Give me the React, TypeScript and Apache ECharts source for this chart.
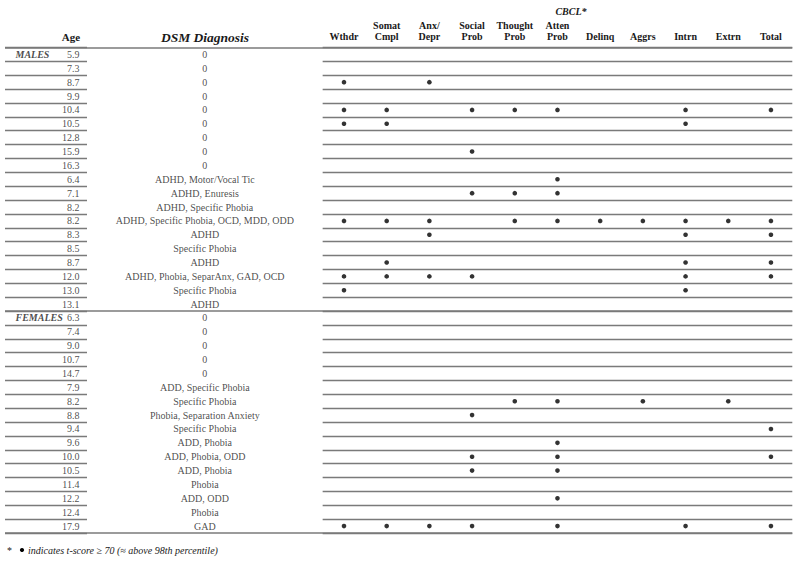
import React, { useEffect, useRef } from "react";
import * as echarts from "echarts";

const cbclColumns = ["Wthdr", "Somat\nCmpl", "Anx/\nDepr", "Social\nProb", "Thought\nProb", "Atten\nProb", "Delinq", "Aggrs", "Intrn", "Extrn", "Total"];
const groupLabels = ["MALES", "FEMALES"];

const maleAges = ["5.9", "7.3", "8.7", "9.9", "10.4", "10.5", "12.8", "15.9", "16.3", "6.4", "7.1", "8.2", "8.2", "8.3", "8.5", "8.7", "12.0", "13.0", "13.1"];
const maleDiagnoses = ["0", "0", "0", "0", "0", "0", "0", "0", "0", "ADHD, Motor/Vocal Tic", "ADHD, Enuresis", "ADHD, Specific Phobia", "ADHD, Specific Phobia, OCD, MDD, ODD", "ADHD", "Specific Phobia", "ADHD", "ADHD, Phobia, SeparAnx, GAD, OCD", "Specific Phobia", "ADHD"];
// 1 = t-score >= 70 in column order of cbclColumns
const maleFlags = [
  "00000000000",
  "00000000000",
  "10100000000",
  "00000000000",
  "11011100101",
  "11000000100",
  "00000000000",
  "00010000000",
  "00000000000",
  "00000100000",
  "00011100000",
  "00000000000",
  "11101111111",
  "00100000101",
  "00000000000",
  "01000000101",
  "11110000101",
  "10000000100",
  "00000000000",
];

const femaleAges = ["6.3", "7.4", "9.0", "10.7", "14.7", "7.9", "8.2", "8.8", "9.4", "9.6", "10.0", "10.5", "11.4", "12.2", "12.4", "17.9"];
const femaleDiagnoses = ["0", "0", "0", "0", "0", "ADD, Specific Phobia", "Specific Phobia", "Phobia, Separation Anxiety", "Specific Phobia", "ADD, Phobia", "ADD, Phobia, ODD", "ADD, Phobia", "Phobia", "ADD, ODD", "Phobia", "GAD"];
const femaleFlags = [
  "00000000000",
  "00000000000",
  "00000000000",
  "00000000000",
  "00000000000",
  "00000000000",
  "00001101010",
  "00010000000",
  "00000000001",
  "00000100000",
  "00010100001",
  "00010100000",
  "00000000000",
  "00000100000",
  "00000000000",
  "11110100101",
];

const FONT = "'Liberation Serif', 'Times New Roman', serif";
const LINE = "#7a7a7a";
const TEXT = "#1a1a1a";

export default function App() {
  const ref = useRef<HTMLDivElement>(null);

  useEffect(() => {
    if (!ref.current) return;
    const chart = echarts.init(ref.current, undefined, { renderer: "svg" });

    const ages = [...maleAges, ...femaleAges];
    const diagnoses = [...maleDiagnoses, ...femaleDiagnoses];
    const flags = [...maleFlags, ...femaleFlags];
    const n = ages.length;
    const rowKeys = ages.map((_, i) => String(i));

    const dots: number[][] = [];
    flags.forEach((f, r) => {
      f.split("").forEach((c, col) => {
        if (c === "1") dots.push([col, r]);
      });
    });

    const top = 47.5;
    const bottom = 29;

    const catY = (idx: number, split: boolean) => ({
      type: "category",
      gridIndex: idx,
      data: rowKeys,
      inverse: true,
      boundaryGap: true,
      axisLine: { show: false },
      axisTick: { show: false, interval: 0 },
      axisLabel: { show: false, interval: 0 },
      splitLine: { show: split, interval: 0, lineStyle: { color: LINE, width: 1.3 } },
    });

    const option: any = {
      animation: false,
      backgroundColor: "#ffffff",
      textStyle: { fontFamily: FONT },
      grid: [
        { left: 322.65, right: 7.7, top, bottom },
        { left: 5, width: 82, top, bottom },
        { left: 87, width: 235.65, top, bottom },
        { left: 5, right: 7.7, top, bottom },
      ],
      xAxis: [
        {
          type: "category",
          gridIndex: 0,
          position: "top",
          data: cbclColumns,
          boundaryGap: true,
          axisLine: { show: false },
          axisTick: { show: false },
          splitLine: { show: false },
          axisLabel: {
            show: true,
            interval: 0,
            margin: 5,
            fontFamily: FONT,
            fontSize: 10,
            fontWeight: "bold",
            color: TEXT,
            lineHeight: 11.5,
            align: "center",
          },
        },
        { type: "value", gridIndex: 1, min: 0, max: 1, show: false },
        { type: "category", gridIndex: 2, data: ["dx"], show: false },
        { type: "value", gridIndex: 3, min: 0, max: 1, show: false },
      ],
      yAxis: [
        catY(0, true),
        catY(1, true),
        catY(2, false),
        {
          type: "value",
          gridIndex: 3,
          min: 0,
          max: n,
          inverse: true,
          show: false,
          splitLine: { show: false },
        },
      ],
      series: [
        {
          type: "scatter",
          name: "CBCL",
          xAxisIndex: 0,
          yAxisIndex: 0,
          data: dots,
          symbol: "circle",
          symbolSize: 4.6,
          itemStyle: { color: "#000" },
          silent: true,
        },
        {
          type: "scatter",
          name: "Age",
          xAxisIndex: 1,
          yAxisIndex: 1,
          data: ages.map((_, i) => [1, i]),
          symbolSize: 1,
          itemStyle: { color: "rgba(0,0,0,0)" },
          label: {
            show: true,
            position: "left",
            distance: 7,
            formatter: (p: any) => ages[p.dataIndex],
            fontFamily: FONT,
            fontSize: 10,
            color: TEXT,
          },
          silent: true,
        },
        {
          type: "scatter",
          name: "Group",
          xAxisIndex: 1,
          yAxisIndex: 1,
          data: [[0, 0], [0, maleAges.length]],
          symbolSize: 1,
          itemStyle: { color: "rgba(0,0,0,0)" },
          label: {
            show: true,
            position: "right",
            distance: 10,
            formatter: (p: any) => groupLabels[p.dataIndex],
            fontFamily: FONT,
            fontSize: 10,
            fontWeight: "bold",
            fontStyle: "italic",
            color: TEXT,
          },
          silent: true,
        },
        {
          type: "scatter",
          name: "DSM",
          xAxisIndex: 2,
          yAxisIndex: 2,
          data: diagnoses.map((_, i) => [0, i]),
          symbolSize: 1,
          itemStyle: { color: "rgba(0,0,0,0)" },
          label: {
            show: true,
            position: "inside",
            formatter: (p: any) => diagnoses[p.dataIndex],
            fontFamily: FONT,
            fontSize: 10,
            color: TEXT,
          },
          silent: true,
        },
        {
          type: "line",
          name: "rules",
          xAxisIndex: 3,
          yAxisIndex: 3,
          data: [],
          silent: true,
          markLine: {
            silent: true,
            symbol: "none",
            label: { show: false },
            lineStyle: { color: LINE, width: 1.5, type: "solid" },
            data: [{ yAxis: 0 }, { yAxis: maleAges.length }, { yAxis: n }],
          },
        },
      ],
      graphic: [
        {
          type: "text",
          x: 71,
          y: 37,
          style: { text: "Age", font: `bold 11px ${FONT}`, fill: TEXT, align: "center", verticalAlign: "middle" },
        },
        {
          type: "text",
          x: 205,
          y: 37.5,
          style: { text: "DSM Diagnosis", font: `italic bold 13.5px ${FONT}`, fill: TEXT, align: "center", verticalAlign: "middle" },
        },
        {
          type: "text",
          x: 571,
          y: 11.5,
          style: { text: "CBCL*", font: `italic bold 10px ${FONT}`, fill: TEXT, align: "center", verticalAlign: "middle" },
        },
        {
          type: "text",
          x: 7,
          y: 550,
          style: { text: "*", font: `10px ${FONT}`, fill: TEXT, align: "left", verticalAlign: "middle" },
        },
        {
          type: "circle",
          shape: { cx: 22, cy: 550, r: 2.1 },
          style: { fill: "#000" },
        },
        {
          type: "text",
          x: 28,
          y: 550,
          style: { text: "indicates t-score \u2265 70 (\u2248 above 98th percentile)", font: `italic 10px ${FONT}`, fill: TEXT, align: "left", verticalAlign: "middle" },
        },
      ],
    };

    chart.setOption(option);
    return () => chart.dispose();
  }, []);

  return <div ref={ref} style={{ position: "absolute", left: 0, top: 0, width: 800, height: 562, background: "#fff" }} />;
}
